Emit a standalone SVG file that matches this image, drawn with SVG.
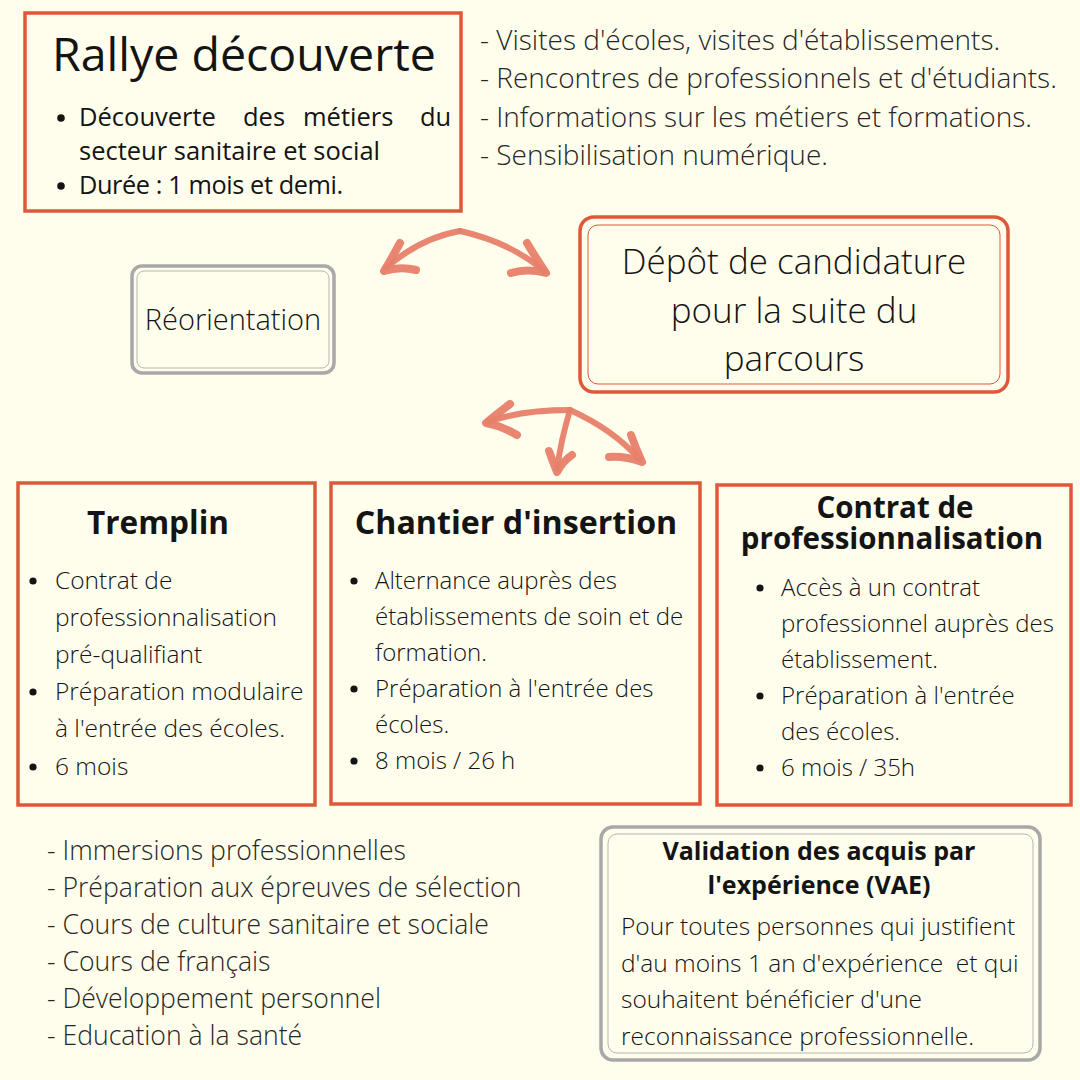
<svg xmlns="http://www.w3.org/2000/svg" width="1080" height="1080" viewBox="0 0 1080 1080">
  <style>
    .bg { fill: #FFFEEC; }
    .obox { fill: none; stroke: #E0583A; stroke-width: 3.5; }
    .gbox { fill: none; stroke: #A8A8A8; stroke-width: 3.5; }
    .gin { fill: none; stroke: #B5B5B5; stroke-width: 1; }
    .oin { fill: none; stroke: #E0583A; stroke-width: 1; }
    text { font-family: "Open Sans", "Liberation Sans", sans-serif; fill: #141414; }
    .reg { font-weight: 400; }
    .light { font-weight: 300; }
    .bold { font-weight: 700; }
    .body { font-size: 24px; font-weight: 300; }
    .body-l { font-size: 24.5px; font-weight: 300; }
    .list { font-size: 26.6px; font-weight: 300; fill: #262626; }
    .list-top { font-size: 28px; font-weight: 300; fill: #262626; }
    .dot { fill: #141414; }
    .shaft { fill: none; stroke: #E7806A; stroke-width: 6; stroke-linecap: round; opacity: 0.95; }
    .head { fill: none; stroke: #E7806A; stroke-width: 8; stroke-linecap: round; stroke-linejoin: round; opacity: 0.95; }
  </style>
  <rect class="bg" x="0" y="0" width="1080" height="1080"/>

  <g id="rallye">
    <rect class="obox" x="25" y="13" width="436" height="198"/>
    <text class="reg" x="52" y="71" font-size="46.5">Rallye découverte</text>
    <circle class="dot" cx="61" cy="118" r="3.8"/>
    <text class="reg" font-size="25.5" y="126"><tspan x="79">Découverte</tspan><tspan x="243">des</tspan><tspan x="303">métiers</tspan><tspan x="420">du</tspan></text>
    <text class="reg" font-size="25.5" x="79" y="160">secteur sanitaire et social</text>
    <circle class="dot" cx="61" cy="186" r="3.8"/>
    <text class="reg" font-size="25.3" x="79" y="194" letter-spacing="-0.4">Durée : 1 mois et demi.</text>
  </g>

  <g id="rallye-details">
    <text class="list-top" x="480" y="50">- Visites d'écoles, visites d'établissements.</text>
    <text class="list-top" x="480" y="88">- Rencontres de professionnels et d'étudiants.</text>
    <text class="list-top" x="480" y="127">- Informations sur les métiers et formations.</text>
    <text class="list-top" x="480" y="165">- Sensibilisation numérique.</text>
  </g>

  <g id="reorientation">
    <rect class="gbox" x="132" y="266" width="202" height="107" rx="10"/>
    <rect class="gin" x="137" y="271" width="192" height="97" rx="7"/>
    <text class="light" x="233" y="330" font-size="29" text-anchor="middle">Réorientation</text>
  </g>

  <g id="depot">
    <rect class="obox" x="580" y="217" width="428" height="175" rx="14" stroke-width="4"/>
    <rect class="oin" x="588" y="225" width="412" height="159" rx="10"/>
    <text class="light" font-size="35" text-anchor="middle"><tspan x="794" y="274">Dépôt de candidature</tspan><tspan x="794" y="323">pour la suite du</tspan><tspan x="794" y="371">parcours</tspan></text>
  </g>

  <g id="connectors">
    <path class="shaft" d="M460 231 Q420 238 386 268"/>
    <path class="head" d="M400 243 Q392 258 384 271 Q400 266 416 270"/>
    <path class="shaft" d="M460 231 Q510 242 544 271"/>
    <path class="head" d="M527 243 Q536 258 546 273 Q528 268 511 273"/>

    <path class="shaft" d="M570 410 Q520 410 488 422"/>
    <path class="head" d="M510 404 Q497 414 486 423 Q502 426 517 435"/>
    <path class="shaft" d="M570 410 Q561 440 557 469"/>
    <path class="head" d="M549 451 Q553 462 557 472 Q563 461 572 455"/>
    <path class="shaft" d="M570 410 Q614 430 639 459"/>
    <path class="head" d="M631 435 Q636 449 642 462 Q625 456 609 457"/>
  </g>

  <g id="tremplin">
    <rect class="obox" x="18" y="483" width="297" height="322"/>
    <text class="bold" x="158" y="534" font-size="31.5" text-anchor="middle">Tremplin</text>
    <circle class="dot" cx="33" cy="581" r="3.6"/>
    <text class="body-l" x="55" y="589">Contrat de</text>
    <text class="body-l" x="55" y="626">professionnalisation</text>
    <text class="body-l" x="55" y="663">pré-qualifiant</text>
    <circle class="dot" cx="33" cy="692" r="3.6"/>
    <text class="body-l" x="55" y="700">Préparation modulaire</text>
    <text class="body-l" x="55" y="737">à l'entrée des écoles.</text>
    <circle class="dot" cx="33" cy="767" r="3.6"/>
    <text class="body-l" x="55" y="775">6 mois</text>
  </g>

  <g id="chantier">
    <rect class="obox" x="331" y="483" width="369" height="321"/>
    <text class="bold" x="516" y="534" font-size="32.2" text-anchor="middle">Chantier d'insertion</text>
    <circle class="dot" cx="354" cy="581" r="3.6"/>
    <text class="body" x="375" y="589">Alternance auprès des</text>
    <text class="body" x="375" y="625">établissements de soin et de</text>
    <text class="body" x="375" y="661">formation.</text>
    <circle class="dot" cx="354" cy="689" r="3.6"/>
    <text class="body" x="375" y="697">Préparation à l'entrée des</text>
    <text class="body" x="375" y="733">écoles.</text>
    <circle class="dot" cx="354" cy="761" r="3.6"/>
    <text class="body" x="375" y="769">8 mois / 26 h</text>
  </g>

  <g id="contrat">
    <rect class="obox" x="717" y="485" width="354" height="320"/>
    <text class="bold" font-size="29.5" text-anchor="middle"><tspan x="895" y="518">Contrat de</tspan><tspan x="892" y="549">professionnalisation</tspan></text>
    <circle class="dot" cx="760" cy="588" r="3.6"/>
    <text class="body" x="781" y="596">Accès à un contrat</text>
    <text class="body" x="781" y="632">professionnel auprès des</text>
    <text class="body" x="781" y="668">établissement.</text>
    <circle class="dot" cx="760" cy="696" r="3.6"/>
    <text class="body" x="781" y="704">Préparation à l'entrée</text>
    <text class="body" x="781" y="740">des écoles.</text>
    <circle class="dot" cx="760" cy="768" r="3.6"/>
    <text class="body" x="781" y="776">6 mois / 35h</text>
  </g>

  <g id="tremplin-details">
    <text class="list" x="47" y="860">- Immersions professionnelles</text>
    <text class="list" x="47" y="897">- Préparation aux épreuves de sélection</text>
    <text class="list" x="47" y="934">- Cours de culture sanitaire et sociale</text>
    <text class="list" x="47" y="971">- Cours de français</text>
    <text class="list" x="47" y="1008">- Développement personnel</text>
    <text class="list" x="47" y="1045">- Education à la santé</text>
  </g>

  <g id="vae">
    <rect class="gbox" x="601" y="827" width="439" height="233" rx="12"/>
    <rect class="gin" x="608" y="834" width="425" height="219" rx="9"/>
    <text class="bold" font-size="25" text-anchor="middle"><tspan x="819" y="860">Validation des acquis par</tspan><tspan x="819" y="894">l'expérience (VAE)</tspan></text>
    <text class="body-l" x="621" y="935">Pour toutes personnes qui justifient</text>
    <text class="body-l" x="621" y="972">d'au moins 1 an d'expérience&#160; et qui</text>
    <text class="body-l" x="621" y="1008">souhaitent bénéficier d'une</text>
    <text class="body-l" x="621" y="1045">reconnaissance professionnelle.</text>
  </g>
</svg>
